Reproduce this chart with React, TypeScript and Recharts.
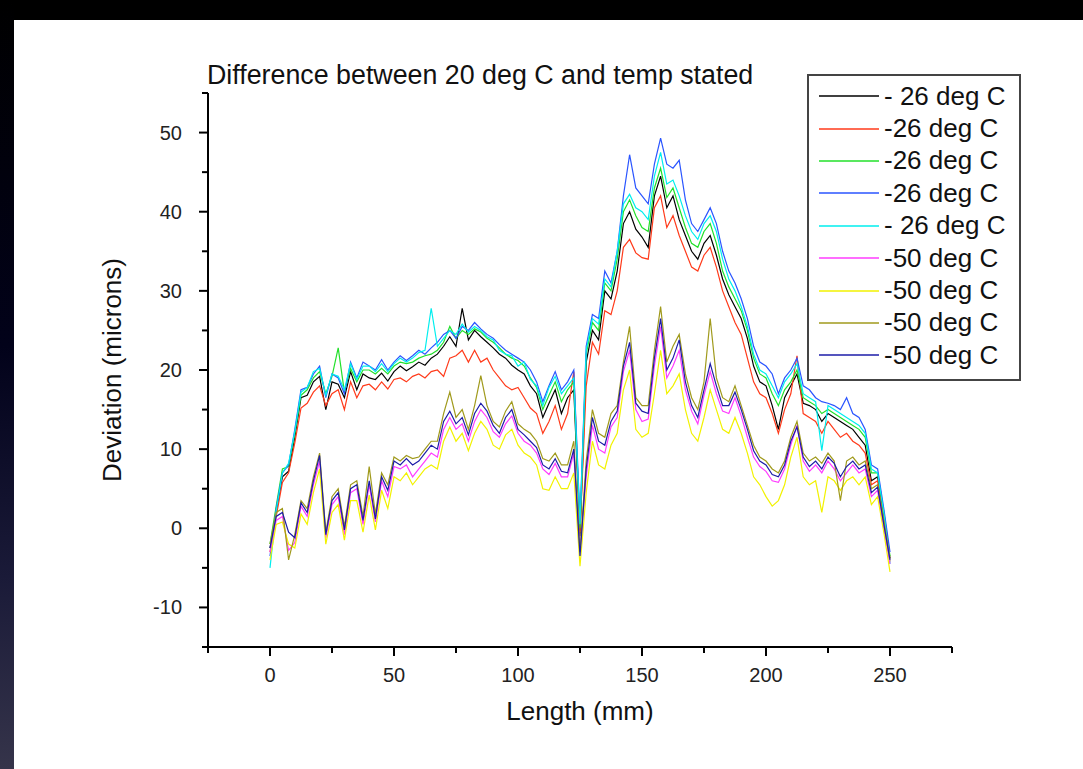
import * as React from "react";
import { LineChart, Line, XAxis, YAxis, Legend } from "recharts";

// Length along the part (mm), every 2.5 mm
const lengths = [
  0, 2.5, 5, 7.5, 10, 12.5, 15, 17.5, 20, 22.5, 25, 27.5, 30, 32.5, 35, 37.5, 40, 42.5, 45, 47.5,
  50, 52.5, 55, 57.5, 60, 62.5, 65, 67.5, 70, 72.5, 75, 77.5, 80, 82.5, 85, 87.5, 90, 92.5, 95, 97.5,
  100, 102.5, 105, 107.5, 110, 112.5, 115, 117.5, 120, 122.5, 125, 127.5, 130, 132.5, 135, 137.5, 140, 142.5, 145, 147.5,
  150, 152.5, 155, 157.5, 160, 162.5, 165, 167.5, 170, 172.5, 175, 177.5, 180, 182.5, 185, 187.5, 190, 192.5, 195, 197.5,
  200, 202.5, 205, 207.5, 210, 212.5, 215, 217.5, 220, 222.5, 225, 227.5, 230, 232.5, 235, 237.5, 240, 242.5, 245, 247.5,
  250,
];

const s26a = [
  -2.5, 2.0, 6.5, 7.2, 11.5, 16.5, 16.8, 18.5, 19.2, 15.0, 18.5, 18.2, 16.5, 19.8, 17.5, 19.5, 19.0, 18.8, 19.6, 18.6,
  19.8, 20.5, 19.9, 20.4, 21.0, 20.6, 21.5, 22.0, 23.0, 24.2, 23.0, 27.8, 23.8, 25.0, 24.2, 23.5, 22.8, 22.0, 21.5, 20.6,
  20.0, 19.5, 18.0, 17.0, 14.0, 15.8, 17.5, 14.5, 16.5, 17.5, -1.0, 21.0, 25.0, 23.8, 30.0, 29.0, 32.5, 38.5, 40.0, 37.8,
  36.8, 35.5, 42.0, 44.5, 40.5, 42.0, 39.0, 37.0, 35.0, 34.0, 36.0, 37.0, 34.5, 31.5, 29.5, 28.0, 26.5, 24.0, 20.5, 18.5,
  18.0, 15.5, 12.5, 16.5, 18.0, 19.5, 15.8, 15.5, 15.0, 13.5, 14.5, 14.0, 13.5, 13.0, 12.5, 11.5, 10.5, 6.0, 6.5, 1.5,
  -3.8,
];
const s26b = [
  -3.0, 1.5, 5.8, 7.0, 10.8, 15.2, 15.8, 17.2, 18.0, 15.5, 17.0, 17.5, 15.0, 18.5, 16.5, 18.0, 18.2, 17.5, 18.5, 17.6,
  18.8, 19.0, 18.5, 19.2, 19.5, 19.0, 19.8, 20.0, 19.2, 21.5, 21.8, 22.5, 21.0, 22.5, 21.0, 21.5, 20.0, 19.0, 18.0, 17.5,
  17.8, 16.5, 15.2, 14.5, 12.0, 13.5, 15.5, 12.5, 14.5, 19.8, -0.5, 18.0, 23.5, 22.0, 27.5, 27.0, 30.0, 35.5, 36.5, 34.8,
  34.2, 34.0, 40.5, 42.0, 38.0, 39.5, 37.0, 35.0, 33.0, 32.5, 34.5, 35.5, 33.0, 30.0, 28.0, 26.0, 24.5, 21.5, 18.5, 17.0,
  16.5, 14.5, 12.0, 15.0, 17.0, 21.8, 14.5, 14.0, 13.5, 12.0, 13.5, 12.5, 11.5, 12.0, 11.0, 10.5, 9.5, 5.5, 6.0, 1.0,
  -4.2,
];
const s26c = [
  -2.0, 2.8, 7.5, 7.8, 12.0, 16.8, 17.5, 19.0, 19.8, 17.0, 19.2, 22.8, 17.2, 20.2, 18.5, 20.0, 20.0, 19.5, 20.2, 19.5,
  20.5, 21.0, 20.8, 21.0, 21.5, 21.8, 22.0, 22.5, 23.5, 25.5, 24.0, 25.0, 24.5, 25.2, 24.8, 24.0, 23.5, 22.8, 22.0, 21.5,
  21.2, 20.5, 19.0, 17.8, 15.0, 16.8, 18.5, 16.0, 17.5, 18.5, 0.0, 22.0, 26.0, 25.0, 31.0, 30.0, 34.0, 40.0, 41.5, 39.5,
  38.0, 37.5, 43.0, 45.5, 41.8, 43.0, 40.5, 38.0, 36.0, 35.5, 37.5, 38.5, 36.0, 32.5, 30.5, 29.0, 27.5, 25.0, 21.5, 19.5,
  19.0, 17.0, 15.5, 17.5, 18.5, 20.0, 16.5, 16.0, 15.5, 14.5, 15.0, 14.5, 14.0, 13.5, 13.0, 12.5, 11.5, 7.0, 7.0, 2.0,
  -3.5,
];
const s26d = [
  -3.5, 2.5, 7.0, 8.0, 12.5, 17.5, 17.8, 19.5, 20.5, 16.5, 19.5, 19.0, 17.0, 21.0, 19.0, 21.0, 20.5, 20.0, 21.3, 20.0,
  21.0, 21.8, 21.2, 21.8, 22.5, 22.0, 22.8, 23.5, 24.5, 25.0, 24.0, 25.5, 25.0, 26.0, 25.2, 24.5, 24.0, 23.2, 22.5, 22.0,
  21.5, 21.0, 20.0, 18.5, 16.0, 18.0, 19.8, 17.5, 18.5, 20.0, 1.0, 23.0, 27.0, 26.5, 32.5, 31.0, 35.0, 42.0, 47.2, 43.0,
  42.0, 41.0, 46.0, 49.3, 46.0, 45.5, 46.5, 41.5, 38.5, 37.5, 39.0, 40.5, 38.5, 35.0, 32.5, 31.0, 29.0, 26.5, 23.0, 21.0,
  20.5, 19.5, 17.0, 19.0, 20.0, 21.5, 18.0, 17.5, 16.5, 16.0, 15.8, 15.5, 15.0, 16.5, 14.5, 14.0, 12.5, 8.0, 7.5, 2.5,
  -3.0,
];
const s26e = [
  -5.0, 2.2, 7.0, 8.2, 12.2, 17.2, 17.8, 19.8, 20.2, 16.8, 19.5, 19.2, 17.5, 20.8, 18.8, 20.5, 20.5, 19.8, 20.8, 19.8,
  20.8, 21.5, 21.0, 21.5, 22.2, 22.5, 27.8, 23.0, 24.0, 25.0, 24.5, 25.8, 24.8, 25.5, 25.0, 24.2, 23.8, 22.5, 22.0, 21.8,
  20.5, 21.0, 18.8, 18.0, 15.5, 17.8, 19.2, 17.0, 18.0, 19.0, 0.5, 22.5, 26.5, 25.8, 31.5, 30.5, 35.0, 41.0, 42.2, 40.5,
  40.0, 39.0, 44.5, 47.5, 43.5, 44.0, 42.0, 39.5, 37.5, 36.5, 38.5, 39.5, 37.5, 34.0, 31.5, 30.0, 28.0, 25.5, 22.0, 20.0,
  19.5, 18.0, 16.5, 18.5, 19.5, 20.8, 17.0, 16.5, 16.0, 9.8, 15.5, 15.0, 14.5, 14.0, 13.5, 13.0, 12.0, 7.5, 7.0, 2.0,
  -4.5,
];
const s50a = [
  -3.0, 1.0, 1.5, -2.8, -1.8, 2.8, 1.5, 5.5, 8.5, -1.2, 3.0, 4.0, -0.8, 4.5, 5.0, 0.5, 5.5, 0.8, 6.0, 4.0,
  7.8, 7.5, 8.0, 6.5, 7.5, 8.5, 9.5, 9.0, 12.5, 14.0, 12.5, 13.2, 11.0, 13.5, 15.0, 14.0, 12.2, 11.5, 13.2, 14.2,
  12.0, 11.0, 10.5, 9.5, 7.5, 6.8, 8.2, 6.5, 6.5, 9.5, -3.0, 6.5, 13.0, 10.0, 9.5, 12.8, 14.0, 19.8, 22.5, 15.0,
  13.5, 13.8, 20.5, 25.5, 19.0, 20.5, 22.5, 17.5, 14.8, 13.2, 16.8, 19.8, 17.0, 14.8, 14.5, 16.5, 14.2, 11.5, 9.0, 7.8,
  7.2, 6.0, 5.8, 7.5, 10.5, 13.0, 8.5, 7.2, 8.0, 7.0, 8.5, 7.5, 6.0, 7.0, 8.0, 7.0, 7.5, 4.0, 4.8, 0.0,
  -4.5,
];
const s50b = [
  -4.0, 0.5, 0.8, -2.0, -2.5, 1.8, 0.5, 4.5, 7.5, -2.0, 2.0, 3.0, -1.5, 3.5, 3.5, -0.5, 4.2, -0.2, 4.8, 2.5,
  6.5, 6.0, 7.0, 5.5, 6.5, 7.5, 8.0, 7.5, 11.0, 12.8, 11.0, 12.0, 9.8, 12.0, 13.5, 12.5, 10.5, 10.0, 11.8, 12.5,
  10.5, 9.5, 9.0, 8.0, 5.0, 4.8, 6.5, 5.0, 5.0, 7.0, -4.8, 4.5, 11.0, 8.0, 7.5, 10.5, 12.0, 17.5, 20.0, 12.5,
  11.5, 12.0, 17.0, 22.5, 17.0, 18.0, 19.5, 15.0, 12.0, 11.0, 14.0, 17.5, 15.0, 12.5, 12.0, 14.0, 12.0, 9.5, 6.5, 5.5,
  4.0, 2.8, 3.5, 5.5, 9.0, 11.5, 6.5, 5.5, 6.0, 2.0, 6.5, 6.0, 4.8, 6.0, 6.5, 5.5, 6.5, 3.0, 4.0, -0.5,
  -5.5,
];
const s50c = [
  -2.0, 2.0, 2.5, -4.0, -0.8, 3.5, 2.5, 6.5, 9.5, -0.5, 4.0, 5.0, 0.2, 5.5, 6.0, 1.5, 7.8, 1.8, 7.0, 5.5,
  9.0, 8.5, 9.2, 8.8, 9.0, 10.0, 11.0, 11.0, 14.5, 17.2, 14.0, 15.0, 12.5, 15.5, 19.3, 15.5, 13.5, 12.8, 14.8, 16.0,
  13.2, 12.5, 12.0, 11.0, 8.8, 8.5, 9.5, 8.0, 8.0, 11.0, -3.0, 8.5, 15.0, 12.0, 11.5, 14.5, 15.5, 21.0, 25.5, 16.5,
  15.5, 15.5, 22.5, 28.0, 21.0, 23.0, 24.5, 19.5, 16.5, 15.0, 18.5, 26.5, 19.0, 16.5, 16.0, 18.0, 15.5, 13.0, 10.5, 9.0,
  8.5, 7.5, 7.0, 8.5, 11.5, 13.5, 9.5, 8.5, 9.0, 8.2, 9.5, 8.5, 3.5, 8.5, 9.0, 8.0, 8.5, 5.0, 5.5, 1.0,
  -3.8,
];
const s50d = [
  -2.5, 1.5, 2.0, -0.5, -1.2, 3.2, 2.0, 6.0, 9.2, -0.8, 3.5, 4.5, -0.2, 5.0, 5.5, 1.0, 6.0, 1.2, 6.5, 4.8,
  8.5, 8.0, 8.8, 8.0, 8.5, 9.5, 10.5, 10.0, 13.5, 14.8, 13.2, 14.0, 11.8, 14.5, 15.8, 14.8, 13.0, 12.0, 14.0, 15.0,
  12.5, 11.8, 11.0, 10.2, 8.0, 7.5, 8.8, 7.2, 7.0, 10.0, -3.5, 7.5, 14.0, 11.0, 10.5, 13.5, 14.8, 20.5, 23.5, 15.8,
  14.8, 14.5, 21.5, 26.5, 20.0, 21.5, 23.8, 18.5, 15.5, 14.0, 17.5, 20.8, 18.0, 15.5, 15.5, 17.2, 15.0, 12.5, 9.8, 8.5,
  8.0, 6.8, 6.5, 8.0, 11.0, 12.8, 9.0, 7.8, 8.5, 7.5, 9.0, 8.2, 6.5, 7.8, 8.5, 7.5, 8.0, 4.5, 5.2, 0.5,
  -4.0,
];

const seriesNames = [
  "- 26 deg C", "-26 deg C", "-26 deg C", "-26 deg C", "- 26 deg C",
  "-50 deg C", "-50 deg C", "-50 deg C", "-50 deg C",
];
const seriesValues = [s26a, s26b, s26c, s26d, s26e, s50a, s50b, s50c, s50d];
const seriesColors = [
  "#000000", "#ff3a1a", "#22e02a", "#2a55ff", "#00eeee",
  "#ff3cff", "#f2f200", "#a09a1c", "#1c1ca8",
];

const xTicks = [-25, 0, 25, 50, 75, 100, 125, 150, 175, 200, 225, 250, 275];
const yTicks = [-15, -10, -5, 0, 5, 10, 15, 20, 25, 30, 35, 40, 45, 50, 55];

const data = lengths.map((x, i) => {
  const row: Record<string, number> = { x };
  seriesValues.forEach((vals, k) => {
    row["s" + k] = vals[i];
  });
  return row;
});

const font = "'Liberation Sans', Arial, sans-serif";

function XTick(props: any) {
  const { x, y, payload } = props;
  const major = payload.value % 50 === 0;
  return (
    <g>
      <line x1={x} y1={y} x2={x} y2={y + (major ? 9 : 6)} stroke="#000" strokeWidth={2} />
      {major && (
        <text x={x} y={y + 35} textAnchor="middle" fontSize={20} fill="#222" fontFamily={font}>
          {payload.value}
        </text>
      )}
    </g>
  );
}

function YTick(props: any) {
  const { x, y, payload } = props;
  const major = payload.value % 10 === 0;
  return (
    <g>
      <line x1={x - (major ? 9 : 6)} y1={y} x2={x} y2={y} stroke="#000" strokeWidth={2} />
      {major && (
        <text x={x - 26} y={y + 7} textAnchor="end" fontSize={20} fill="#222" fontFamily={font}>
          {payload.value}
        </text>
      )}
    </g>
  );
}

// legend drawn in series order, as in the original
function LegendBox() {
  return (
    <div
      style={{
        width: 210,
        height: 299,
        border: "2px solid #444",
        background: "#fff",
        boxSizing: "content-box",
        paddingTop: 4,
        fontFamily: font,
      }}
    >
      {seriesNames.map((name, i) => (
        <div key={i} style={{ display: "flex", alignItems: "center", height: 32.4 }}>
          <svg width={70} height={4} style={{ flex: "none" }}>
            <line x1={10} y1={2} x2={70} y2={2} stroke={seriesColors[i]} strokeWidth={1.5} />
          </svg>
          <span style={{ fontSize: 26, color: "#111", whiteSpace: "pre", marginLeft: 5 }}>{name}</span>
        </div>
      ))}
    </div>
  );
}

export default function App() {
  return (
    <div style={{ position: "relative", width: 1083, height: 769, background: "#fff", overflow: "hidden" }}>
      <style>{`body{margin:0}`}</style>
      <div style={{ position: "absolute", left: 0, top: 0, width: 1083, height: 20, background: "#000" }} />
      <div
        style={{
          position: "absolute",
          left: 0,
          top: 0,
          width: 14,
          height: 769,
          background: "linear-gradient(#000 0%, #02021a 45%, #1a1a38 75%, #35344a 100%)",
        }}
      />
      <div
        style={{
          position: "absolute",
          left: 207,
          top: 60,
          fontFamily: font,
          fontSize: 26.8,
          color: "#111",
          whiteSpace: "nowrap",
        }}
      >
        Difference between 20 deg C and temp stated
      </div>
      <div style={{ position: "absolute", left: 0, top: 0 }}>
        <LineChart width={1083} height={769} data={data} margin={{ top: 93, right: 131, bottom: 62, left: 108 }}>
          <XAxis
            dataKey="x"
            type="number"
            domain={[-25, 275]}
            ticks={xTicks}
            interval={0}
            height={60}
            tickSize={0}
            tickMargin={0}
            tickLine={false}
            tick={<XTick />}
            axisLine={{ stroke: "#000", strokeWidth: 2 }}
            label={{ value: "Length (mm)", position: "bottom", offset: -5, fontSize: 26, fill: "#111", fontFamily: font }}
          />
          <YAxis
            type="number"
            domain={[-15, 55]}
            ticks={yTicks}
            interval={0}
            width={100}
            tickSize={0}
            tickMargin={0}
            tickLine={false}
            tick={<YTick />}
            axisLine={{ stroke: "#000", strokeWidth: 2 }}
            label={{
              value: "Deviation (microns)",
              angle: -90,
              position: "insideLeft",
              offset: 4,
              fontSize: 26,
              fill: "#111",
              fontFamily: font,
              style: { textAnchor: "middle" },
            }}
          />
          <Legend
            layout="vertical"
            align="center"
            verticalAlign="middle"
            content={<LegendBox />}
            wrapperStyle={{ left: 807, top: 74, width: "auto", height: "auto" }}
          />
          {seriesValues.map((_, k) => (
            <Line
              key={k}
              type="linear"
              dataKey={"s" + k}
              name={seriesNames[k]}
              stroke={seriesColors[k]}
              strokeWidth={1.2}
              dot={false}
              activeDot={false}
              isAnimationActive={false}
            />
          ))}
        </LineChart>
      </div>
    </div>
  );
}
